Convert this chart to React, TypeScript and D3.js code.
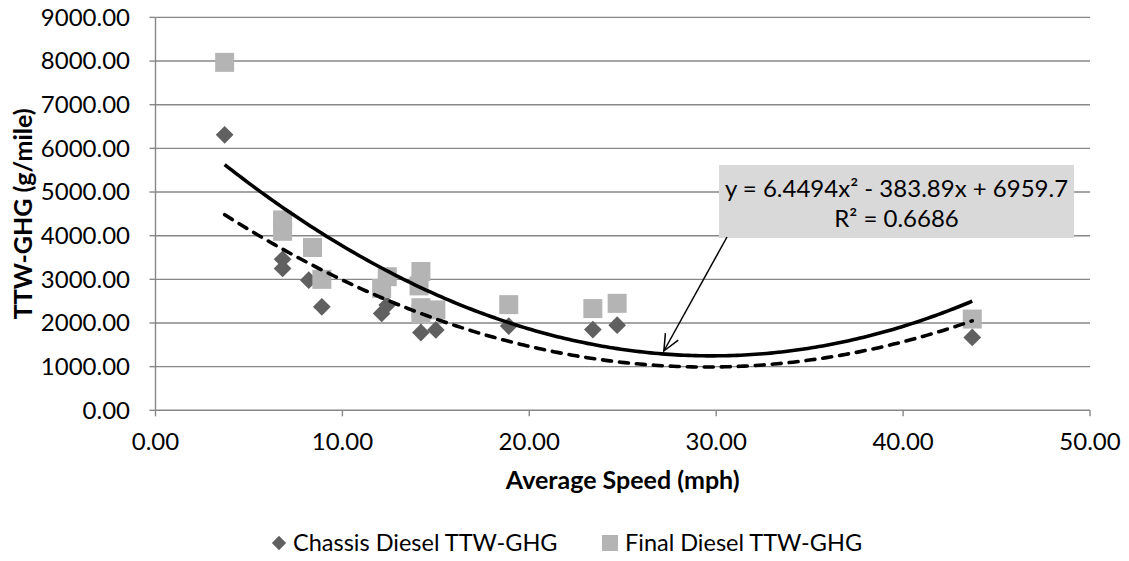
import React from "react";
import * as d3 from "d3";

// Chassis diesel measurements: average speed (mph) and TTW-GHG (g/mile)
const chassisSpeed = [3.7, 6.8, 6.8, 8.2, 8.9, 12.1, 12.4, 14.2, 14.2, 15.0, 18.9, 23.4, 24.7, 43.7];
const chassisGhg = [6310, 3460, 3250, 2980, 2370, 2220, 2410, 2150, 1780, 1840, 1930, 1850, 1950, 1670];

// Final diesel measurements
const finalSpeed = [3.7, 6.8, 6.8, 8.4, 8.9, 12.1, 12.4, 14.1, 14.2, 14.2, 14.2, 15.0, 18.9, 23.4, 24.7, 43.7];
const finalGhg = [7970, 4360, 4100, 3730, 3000, 2790, 3060, 2850, 3180, 2350, 2200, 2300, 2420, 2330, 2450, 2090];

// Polynomial (order 2) trendlines: [x², x, constant]
const finalTrend = [6.4494, -383.89, 6959.7];
const chassisTrend = [5.243, -309.3, 5553];
const finalR2 = "0.6686";

const xTicks = [0, 10, 20, 30, 40, 50];
const yTicks = [0, 1000, 2000, 3000, 4000, 5000, 6000, 7000, 8000, 9000];

const W = 1129;
const H = 561;
const FONT = "Lato, 'Open Sans', sans-serif";
const GRID = "#878787";
const DARK = "#606060";
const LIGHT = "#b4b4b4";

const x = d3.scaleLinear().domain([0, 50]).range([155.5, 1090]);
const y = d3.scaleLinear().domain([0, 9000]).range([410.3, 17.4]);

const quad = (c: number[]) => (v: number) => c[0] * v * v + c[1] * v + c[2];

function trendPath(c: number[], xs: number[]) {
  const f = quad(c);
  const lo = d3.min(xs) as number;
  const hi = d3.max(xs) as number;
  const pts = d3.range(0, 201).map((i) => lo + ((hi - lo) * i) / 200);
  return d3
    .line<number>()
    .x((v) => x(v))
    .y((v) => y(f(v)))(pts) as string;
}

export default function App() {
  const diamond = d3.symbol().type(d3.symbolDiamond2).size(200)() as string;
  const fFinal = quad(finalTrend);

  // arrow from the equation box to a point on the final trendline
  const tipX = x(27.2);
  const tipY = y(fFinal(27.2)) - 3;
  const tailX = 727;
  const tailY = 237;
  const ang = Math.atan2(tipY - tailY, tipX - tailX);
  const head = 18;
  const spread = 0.42;
  const h1 = [tipX - head * Math.cos(ang - spread), tipY - head * Math.sin(ang - spread)];
  const h2 = [tipX - head * Math.cos(ang + spread), tipY - head * Math.sin(ang + spread)];

  return (
    <svg
      width={W}
      height={H}
      viewBox={`0 0 ${W} ${H}`}
      style={{ position: "absolute", left: 0, top: 0, background: "#fff" }}
      fontFamily={FONT}
    >
      {/* horizontal gridlines */}
      {yTicks.slice(1).map((t) => (
        <line key={t} x1={x(0)} x2={x(50)} y1={y(t)} y2={y(t)} stroke={GRID} strokeWidth={1.4} />
      ))}

      {/* axes */}
      <line x1={x(0)} x2={x(0)} y1={y(9000)} y2={y(0)} stroke={GRID} strokeWidth={1.4} />
      <line x1={x(0)} x2={x(50)} y1={y(0)} y2={y(0)} stroke={GRID} strokeWidth={1.4} />
      {yTicks.map((t) => (
        <g key={t}>
          <line x1={x(0) - 6} x2={x(0)} y1={y(t)} y2={y(t)} stroke={GRID} strokeWidth={1.4} />
          <text x={130} y={y(t)} dy="0.35em" textAnchor="end" fontSize={24} fill="#000">
            {t.toFixed(2)}
          </text>
        </g>
      ))}
      {xTicks.map((t) => (
        <g key={t}>
          <line x1={x(t)} x2={x(t)} y1={y(0)} y2={y(0) + 6} stroke={GRID} strokeWidth={1.4} />
          <text x={x(t)} y={442} dy="0.35em" textAnchor="middle" fontSize={24} fill="#000">
            {t.toFixed(2)}
          </text>
        </g>
      ))}

      {/* axis titles */}
      <text
        transform={`translate(23, ${(y(0) + y(9000)) / 2}) rotate(-90)`}
        textAnchor="middle"
        dy="0.35em"
        fontSize={25}
        fontWeight="bold"
        fill="#000"
      >
        TTW-GHG (g/mile)
      </text>
      <text x={(x(0) + x(50)) / 2} y={480} dy="0.35em" textAnchor="middle" fontSize={25} fontWeight="bold" fill="#000">
        Average Speed (mph)
      </text>

      {/* chassis series */}
      {chassisSpeed.map((s, i) => (
        <path key={`c${i}`} d={diamond} transform={`translate(${x(s)}, ${y(chassisGhg[i])})`} fill={DARK} />
      ))}

      {/* final series */}
      {finalSpeed.map((s, i) => (
        <rect key={`f${i}`} x={x(s) - 9.5} y={y(finalGhg[i]) - 9.5} width={19} height={19} fill={LIGHT} />
      ))}

      {/* trendlines */}
      <path d={trendPath(finalTrend, finalSpeed)} fill="none" stroke="#000" strokeWidth={3.6} />
      <path
        d={trendPath(chassisTrend, chassisSpeed)}
        fill="none"
        stroke="#000"
        strokeWidth={3.6}
        strokeDasharray="9 8"
        strokeLinecap="round"
      />

      {/* equation label */}
      <rect x={719} y={165} width={355} height={73} fill="#d9d9d9" />
      <text x={896.5} y={197} textAnchor="middle" fontSize={24} fill="#000">
        {`y = ${finalTrend[0]}x² - ${-finalTrend[1]}x + ${finalTrend[2]}`}
      </text>
      <text x={896.5} y={227} textAnchor="middle" fontSize={24} fill="#000">
        {`R² = ${finalR2}`}
      </text>
      <line x1={tailX} y1={tailY} x2={tipX} y2={tipY} stroke="#000" strokeWidth={1.5} />
      <polyline
        points={`${h1[0]},${h1[1]} ${tipX},${tipY} ${h2[0]},${h2[1]}`}
        fill="none"
        stroke="#000"
        strokeWidth={1.5}
      />

      {/* legend */}
      <path d={d3.symbol().type(d3.symbolDiamond2).size(130)() as string} transform="translate(279, 543)" fill={DARK} />
      <text x={293} y={543} dy="0.35em" fontSize={23.5} fill="#000">
        Chassis Diesel TTW-GHG
      </text>
      <rect x={602} y={535} width={16} height={16} fill={LIGHT} />
      <text x={625} y={543} dy="0.35em" fontSize={23.5} fill="#000">
        Final Diesel TTW-GHG
      </text>
    </svg>
  );
}
